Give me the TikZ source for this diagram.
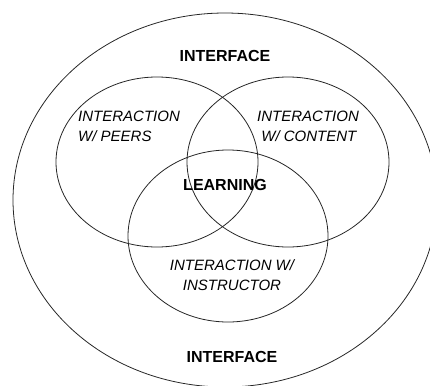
\documentclass[tikz,border=0pt]{standalone}
\usepackage{fontspec}
\setmainfont{Liberation Sans}
\begin{document}
\begin{tikzpicture}[x=1pt,y=-1pt,
  ring/.style={draw=black!85,line width=0.8pt},
  bigtxt/.style={font=\fontsize{16}{18}\selectfont\bfseries,inner sep=0pt},
  itxt/.style={font=\fontsize{15}{20}\selectfont\itshape,inner sep=0pt}]
\useasboundingbox (0,0) rectangle (430,385);
\clip (0,0) rectangle (430,385);
\draw[ring] (225,200) ellipse [x radius=212, y radius=187];
\draw[ring] (157,162) ellipse [x radius=101, y radius=85];
\draw[ring] (288,162) ellipse [x radius=101, y radius=85];
\draw[ring] (228,236) ellipse [x radius=100, y radius=86];
\node[bigtxt] (top) at (225,56) {INTERFACE};
\node[bigtxt] (bot) at (232,357) {INTERFACE};
\node[bigtxt] (learn) at (225,185) {LEARNING};
\node[itxt,align=left,anchor=north west] (peers) at (78,111) {INTERACTION\\W/ PEERS};
\node[itxt,align=left,anchor=north west] (content) at (257,111) {INTERACTION\\\ W/ CONTENT};
\node[itxt,align=center] (instr) at (232,275) {INTERACTION W/\\INSTRUCTOR};
\end{tikzpicture}
\end{document}
